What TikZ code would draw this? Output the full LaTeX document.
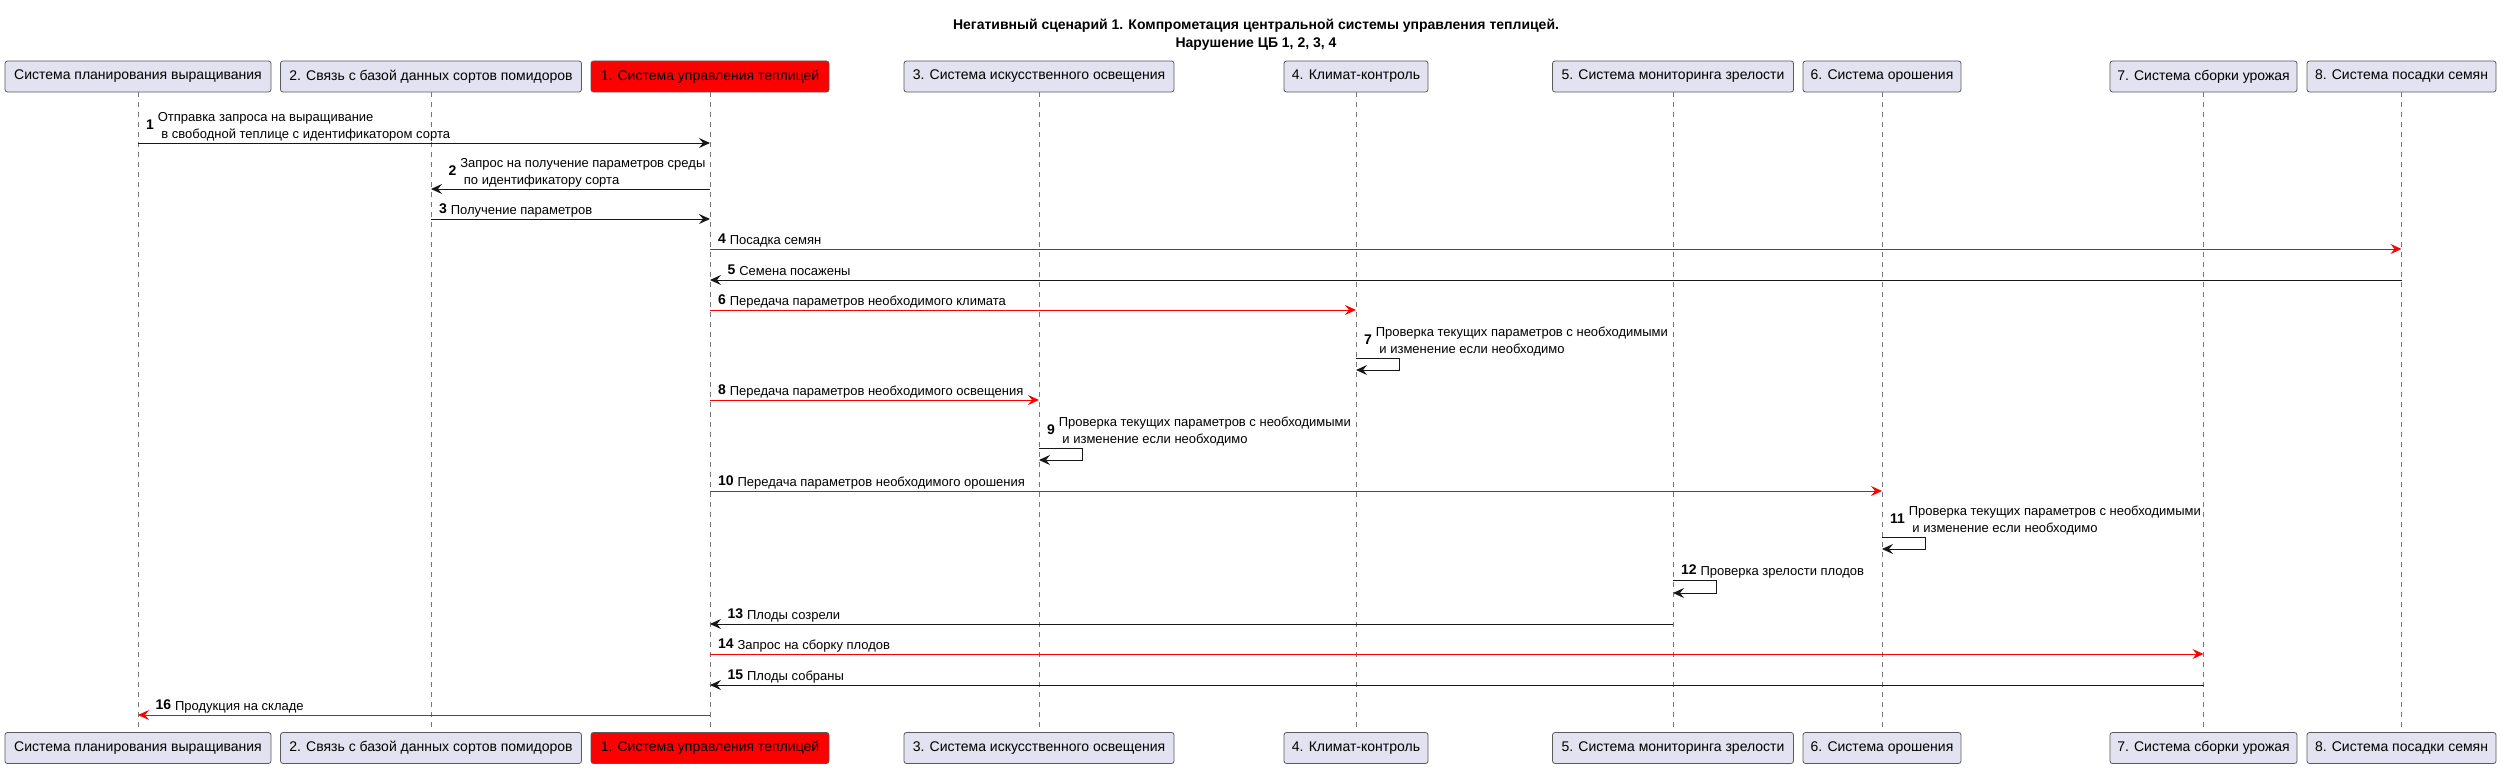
\documentclass[tikz,border=0pt]{standalone}
\usepackage{fontspec}
\setmainfont{Liberation Sans}
\usepackage{xcolor}
\definecolor{boxfill}{RGB}{226,226,240}
\definecolor{boxline}{RGB}{90,90,90}
\definecolor{lifegray}{RGB}{120,120,120}
\definecolor{msgblack}{RGB}{24,24,24}
\definecolor{alarmred}{RGB}{255,0,0}
\usepackage{tikz}
\usetikzlibrary{arrows.meta}
\newcommand{\heightbox}{31pt}
\newcommand{\msgtext}[2]{{\fontsize{14}{17}\selectfont\bfseries #1}\hspace{4pt}\begin{tabular}[c]{@{}l@{}}#2\end{tabular}}
\tikzset{
    common/.style={draw=boxline, line width=0.8pt, rounded corners=2.5pt, minimum height=\heightbox, inner sep=0pt, font=\fontsize{14}{17}\selectfont},
    participant/.style={common, fill=boxfill},
    compromised/.style={common, fill=alarmred},
    title/.style={anchor=base, inner sep=0pt, font=\fontsize{14}{17}\selectfont\bfseries},
    lifeline/.style={lifegray, line width=0.7pt, dash pattern=on 5pt off 5pt},
    msg/.style={msgblack, line width=1pt, -{Stealth[length=11pt, width=10pt, inset=4pt]}},
    badmsg/.style={msg, alarmred},
    lblbase/.style={anchor=south west, inner sep=0pt, yshift=-0.6pt, text=black, font=\fontsize{13}{17}\selectfont},
    lbl/.style={lblbase, pos=0, xshift=7.5pt},
    lblback/.style={lblbase, pos=1, xshift=17pt}
}

\begin{document}
\begin{tikzpicture}[x=1pt, y=-1pt]
    \useasboundingbox[fill=white] (0,0) rectangle (2507,768);

    \node[title] (title) at (1256,30) {Негативный сценарий 1. Компрометация центральной системы управления теплицей.};
    \node[title] (title-2) at (1256,48) {Нарушение ЦБ 1, 2, 3, 4};

    \path
        (138,76.5) node[participant, minimum width=266pt] (plan) {Система планирования выращивания}
        +(0,671.5) node[participant, minimum width=266pt] (plan-end) {Система планирования выращивания}
        (431,76.5) node[participant, minimum width=301pt] (sorts) {2. Связь с базой данных сортов помидоров}
        +(0,671.5) node[participant, minimum width=301pt] (sorts-end) {2. Связь с базой данных сортов помидоров}
        (710,76.5) node[compromised, minimum width=238pt] (ctrl) {1. Система управления теплицей}
        +(0,671.5) node[compromised, minimum width=238pt] (ctrl-end) {1. Система управления теплицей}
        (1039,76.5) node[participant, minimum width=270pt] (light) {3. Система искусственного освещения}
        +(0,671.5) node[participant, minimum width=270pt] (light-end) {3. Система искусственного освещения}
        (1356,76.5) node[participant, minimum width=144pt] (climate) {4. Климат-контроль}
        +(0,671.5) node[participant, minimum width=144pt] (climate-end) {4. Климат-контроль}
        (1673,76.5) node[participant, minimum width=241pt] (ripe) {5. Система мониторинга зрелости}
        +(0,671.5) node[participant, minimum width=241pt] (ripe-end) {5. Система мониторинга зрелости}
        (1882,76.5) node[participant, minimum width=158pt] (water) {6. Система орошения}
        +(0,671.5) node[participant, minimum width=158pt] (water-end) {6. Система орошения}
        (2203.5,76.5) node[participant, minimum width=187pt] (harvest) {7. Система сборки урожая}
        +(0,671.5) node[participant, minimum width=187pt] (harvest-end) {7. Система сборки урожая}
        (2401.5,76.5) node[participant, minimum width=189pt] (seed) {8. Система посадки семян}
        +(0,671.5) node[participant, minimum width=189pt] (seed-end) {8. Система посадки семян};

    \foreach \p in {plan, sorts, ctrl, light, climate, ripe, water, harvest, seed}
        \draw[lifeline] (\p.south) -- (\p-end.north);

    \draw[msg] (plan |- 0,143) -- node[lbl] {\msgtext{1}{Отправка запроса на выращивание\\\ в свободной теплице с идентификатором сорта}} (ctrl |- 0,143);
    \draw[msg] (ctrl |- 0,189) -- node[lblback] {\msgtext{2}{Запрос на получение параметров среды\\\ по идентификатору сорта}} (sorts |- 0,189);
    \draw[msg] (sorts |- 0,219) -- node[lbl] {\msgtext{3}{Получение параметров}} (ctrl |- 0,219);
    \draw[badmsg] (ctrl |- 0,249) -- node[lbl] {\msgtext{4}{Посадка семян}} (seed |- 0,249);
    \draw[msg] (seed |- 0,280) -- node[lblback] {\msgtext{5}{Семена посажены}} (ctrl |- 0,280);
    \draw[badmsg] (ctrl |- 0,310) -- node[lbl] {\msgtext{6}{Передача параметров необходимого климата}} (climate |- 0,310);
    \draw[msg] (climate |- 0,358) -- node[lbl] {\msgtext{7}{Проверка текущих параметров с необходимыми\\\ и изменение если необходимо}} ++(43,0) -- ++(0,12) -- ++(-43,0);
    \draw[badmsg] (ctrl |- 0,400) -- node[lbl] {\msgtext{8}{Передача параметров необходимого освещения}} (light |- 0,400);
    \draw[msg] (light |- 0,448) -- node[lbl] {\msgtext{9}{Проверка текущих параметров с необходимыми\\\ и изменение если необходимо}} ++(43,0) -- ++(0,12) -- ++(-43,0);
    \draw[badmsg] (ctrl |- 0,491) -- node[lbl] {\msgtext{10}{Передача параметров необходимого орошения}} (water |- 0,491);
    \draw[msg] (water |- 0,537) -- node[lbl] {\msgtext{11}{Проверка текущих параметров с необходимыми\\\ и изменение если необходимо}} ++(43,0) -- ++(0,12) -- ++(-43,0);
    \draw[msg] (ripe |- 0,580) -- node[lbl] {\msgtext{12}{Проверка зрелости плодов}} ++(43,0) -- ++(0,13) -- ++(-43,0);
    \draw[msg] (ripe |- 0,624) -- node[lblback] {\msgtext{13}{Плоды созрели}} (ctrl |- 0,624);
    \draw[badmsg] (ctrl |- 0,654) -- node[lbl] {\msgtext{14}{Запрос на сборку плодов}} (harvest |- 0,654);
    \draw[msg] (harvest |- 0,685) -- node[lblback] {\msgtext{15}{Плоды собраны}} (ctrl |- 0,685);
    \draw[badmsg] (ctrl |- 0,715) -- node[lblback] {\msgtext{16}{Продукция на складе}} (plan |- 0,715);
\end{tikzpicture}
\end{document}
